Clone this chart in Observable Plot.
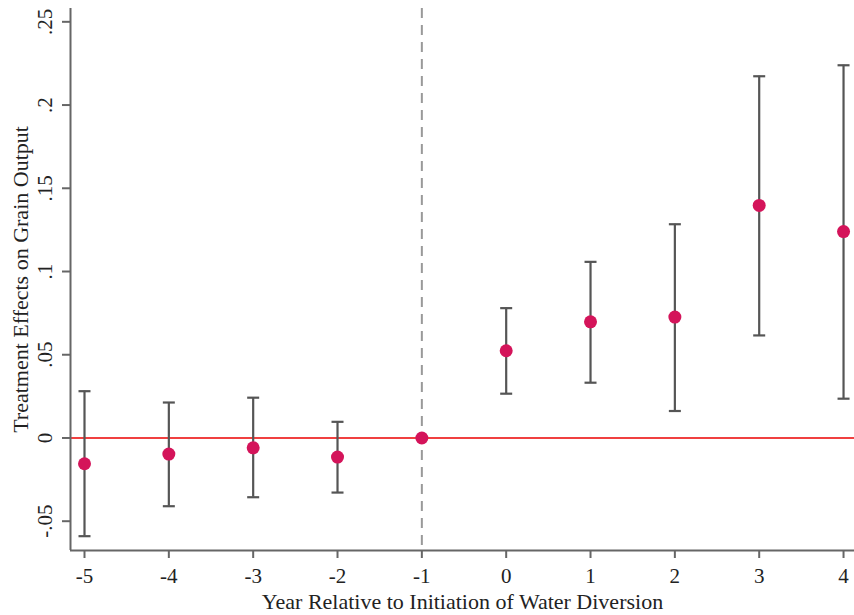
<!DOCTYPE html>
<html>
<head>
<meta charset="utf-8">
<script src="https://cdn.jsdelivr.net/npm/d3@7"></script>
<script src="https://cdn.jsdelivr.net/npm/@observablehq/plot@0.6"></script>
<style>
  html, body { margin: 0; padding: 0; background: #fff; }
  svg { display: block; }
</style>
</head>
<body>
<div id="chart"></div>
<script>
const years    = [-5, -4, -3, -2, -1, 0, 1, 2, 3, 4];
const estimate = [-0.0155, -0.0097, -0.0059, -0.0115, 0, 0.0524, 0.0698, 0.0726, 0.1397, 0.1240];
const ciLow    = [-0.0590, -0.0410, -0.0356, -0.0328, 0, 0.0266, 0.0332, 0.0162, 0.0616, 0.0236];
const ciHigh   = [0.0281, 0.0213, 0.0242, 0.0097, 0, 0.0780, 0.1058, 0.1284, 0.2173, 0.2239];
const xTicks   = [-5, -4, -3, -2, -1, 0, 1, 2, 3, 4];
const yTicks   = [-0.05, 0, 0.05, 0.1, 0.15, 0.2, 0.25];
const xLabel   = "Year Relative to Initiation of Water Diversion";
const yLabel   = "Treatment Effects on Grain Output";
const eventYear = -1;

const data = years.map((y, i) => ({year: y, est: estimate[i], lo: ciLow[i], hi: ciHigh[i]}))
  .filter(d => d.lo !== d.hi);
const pointData = years.map((y, i) => ({year: y, est: estimate[i]}));

const fmtY = d => d === 0 ? "0" : String(d).replace("0.", ".");
const capSymbol = {
  draw(ctx, size) {
    const w = Math.sqrt(size / Math.PI);
    ctx.moveTo(-w, 0);
    ctx.lineTo(w, 0);
  }
};

const xDomain = [-5.166, 4.13];
const yDomain = [-0.0676, 0.258];
const font = "'Liberation Serif', 'Times New Roman', serif";
const axisColor = "#666";
const barColor = "#555";

const chart = Plot.plot({
  width: 854,
  height: 615,
  marginLeft: 70,
  marginRight: 0,
  marginTop: 8,
  marginBottom: 65,
  style: {fontFamily: font, background: "#fff"},
  x: {domain: xDomain, axis: null},
  y: {domain: yDomain, axis: null},
  marks: [
    // zero reference line
    Plot.ruleY([0], {stroke: "#f04040", strokeWidth: 2}),
    // event line
    Plot.ruleX([eventYear], {stroke: "#999", strokeWidth: 2, strokeDasharray: "10,7"}),
    // confidence intervals
    Plot.ruleX(data, {x: "year", y1: "lo", y2: "hi", stroke: barColor, strokeWidth: 2.2}),
    Plot.dot(data, {x: "year", y: "hi", symbol: capSymbol, r: 6, stroke: barColor, strokeWidth: 2.2, fill: "none"}),
    Plot.dot(data, {x: "year", y: "lo", symbol: capSymbol, r: 6, stroke: barColor, strokeWidth: 2.2, fill: "none"}),
    // point estimates
    Plot.dot(pointData, {x: "year", y: "est", r: 6.5, fill: "#d4145a", stroke: "none"}),
    // axis lines
    Plot.ruleX([xDomain[0]], {stroke: axisColor, strokeWidth: 2}),
    Plot.ruleY([yDomain[0]], {stroke: axisColor, strokeWidth: 2}),
    // x axis ticks and labels
    Plot.axisX(xTicks, {anchor: "bottom", tickSize: 8, tickPadding: 10, stroke: axisColor, strokeWidth: 2,
      tickFormat: d => String(d), fontSize: 21, fill: "#222", label: null}),
    // y axis ticks and rotated labels
    Plot.axisY(yTicks, {anchor: "left", tickSize: 8, stroke: axisColor, strokeWidth: 2, tickFormat: () => "", label: null}),
    Plot.text(yTicks, {y: d => d, text: fmtY, frameAnchor: "left", dx: -25, rotate: -90,
      textAnchor: "middle", lineAnchor: "middle", fontSize: 21, fill: "#222"}),
    // axis titles
    Plot.text([xLabel], {frameAnchor: "bottom", dy: 51, fontSize: 22, fill: "#222", lineAnchor: "middle"}),
    Plot.text([yLabel], {frameAnchor: "left", dx: -50, rotate: -90, fontSize: 22, fill: "#222",
      textAnchor: "middle", lineAnchor: "middle"})
  ]
});
document.getElementById("chart").appendChild(chart);
</script>
</body>
</html>
